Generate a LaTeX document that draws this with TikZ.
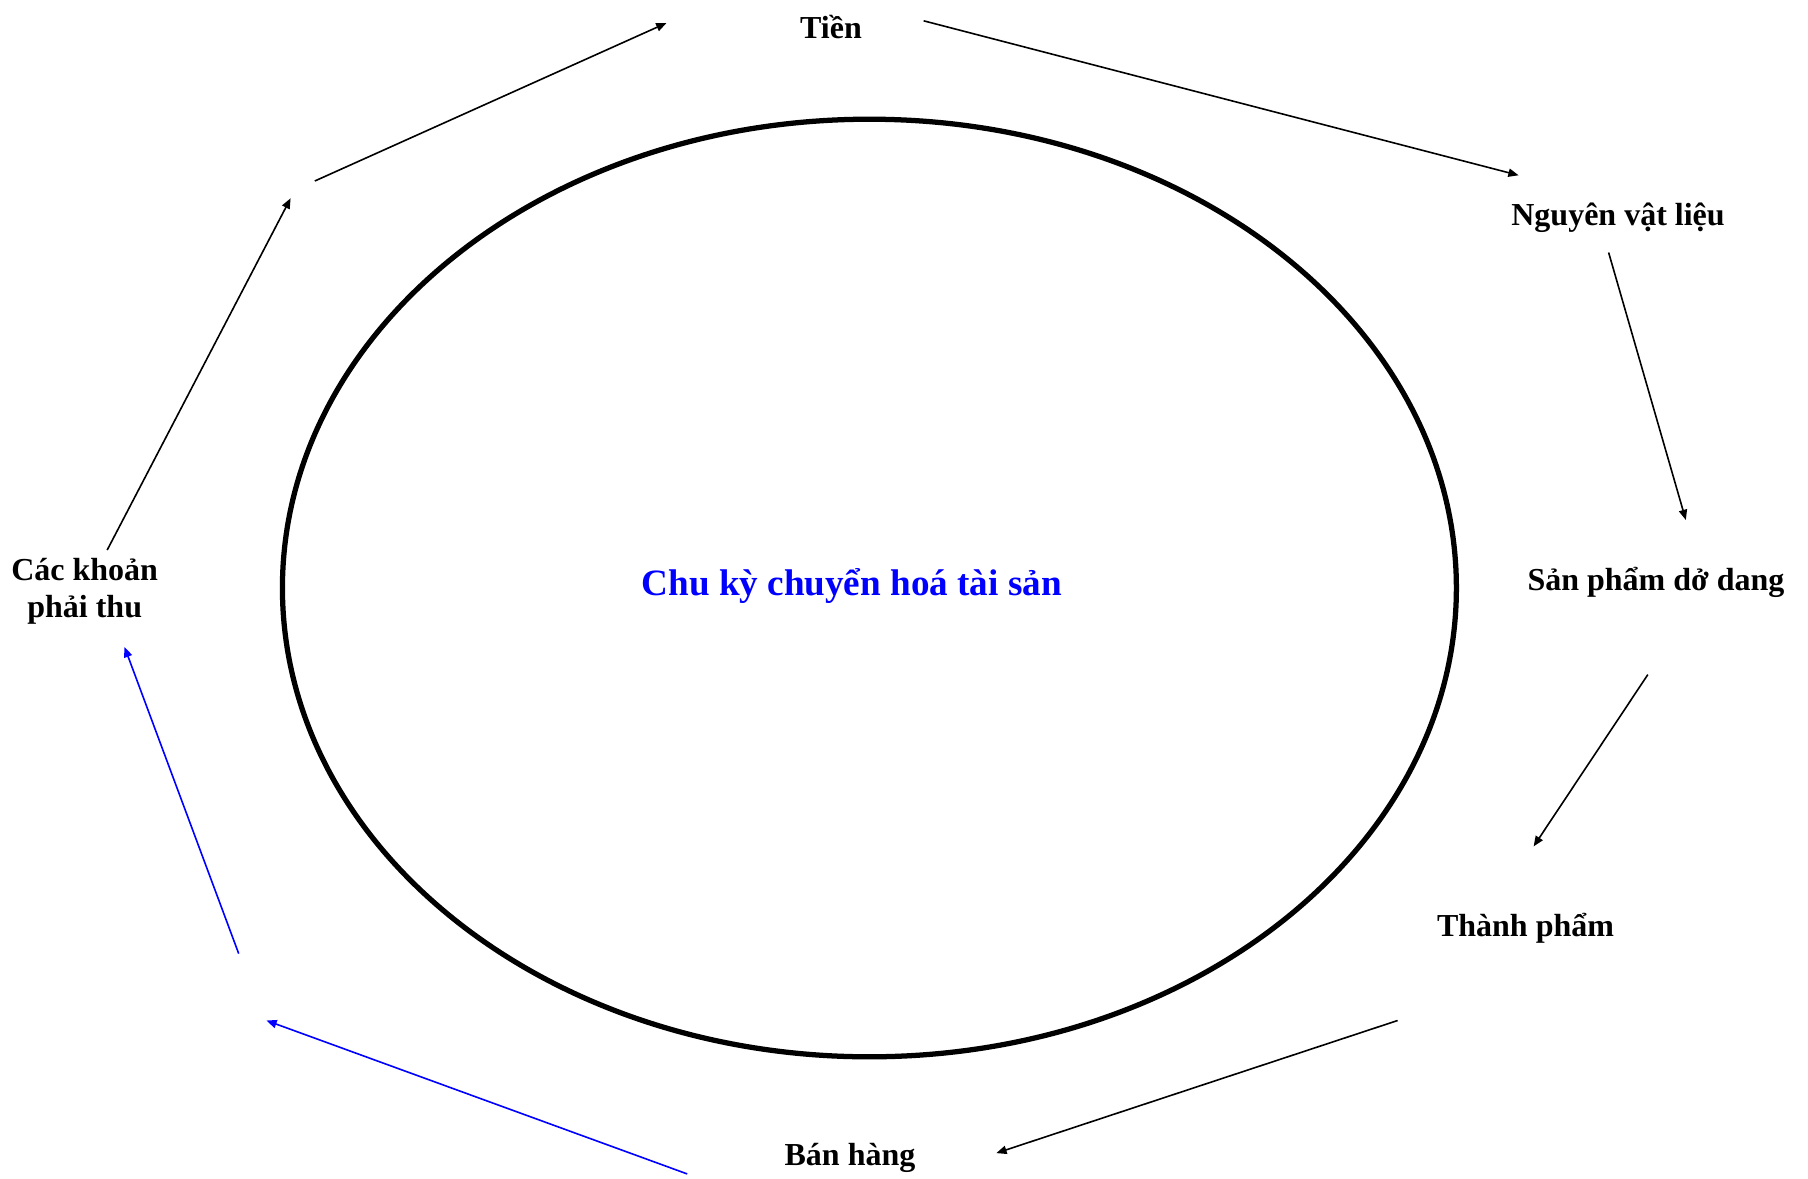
\documentclass[tikz,border=0pt]{standalone}
\usepackage{fontspec}
\setmainfont{Liberation Serif}
\usetikzlibrary{arrows.meta}

\begin{document}
\begin{tikzpicture}[x=0.4375pt, y=-0.4375pt,
        lbl/.style={font=\fontsize{14}{16}\selectfont\bfseries, inner sep=0pt, anchor=base},
        arr/.style={-{Triangle[length=4.5pt, width=3.6pt]}, line width=0.7pt},
        barr/.style={arr, blue}]
        \useasboundingbox (0,0) rectangle (1808,1178);

        % Cycle
        \draw[line width=2.3pt] (869.4,588) ellipse [x radius=256.8pt, y radius=205.1pt];
        \node[font=\fontsize{16.25}{18}\selectfont\bfseries, text=blue, inner sep=0pt, anchor=base] (title) at (851.7,595) {Chu kỳ chuyển hoá tài sản};

        % Stages
        \node[lbl] (tien) at (831,38) {Tiền};
        \node[lbl] (nvl) at (1618,225) {Nguyên vật liệu};
        \node[lbl] (spdd) at (1656,590) {Sản phẩm dở dang};
        \node[lbl] (tp) at (1525.5,936) {Thành phẩm};
        \node[lbl] (bh) at (850,1165) {Bán hàng};
        \node[lbl, anchor=center, align=center] (ckpt) at (84.7,591) {Các khoản\\phải thu};

        % Break points on the left side
        \coordinate (k1) at (290.6,198.3);
        \coordinate (k2) at (314.8,181);
        \coordinate (b1) at (266.4,1020.5);
        \coordinate (b2) at (238.7,953.6);

        % Arrows
        \draw[arr] ([shift={(92.6,-17.2)}]tien.base) -- ([shift={(-99.4,-49.7)}]nvl.base);
        \draw[arr] ([shift={(-9.4,27.5)}]nvl.base) -- ([shift={(29.8,-70)}]spdd.base);
        \draw[arr] ([shift={(-8.2,84.6)}]spdd.base) -- ([shift={(8.1,-89.6)}]tp.base);
        \draw[arr] ([shift={(-127.9,84.5)}]tp.base) -- ([shift={(146.3,-11.9)}]bh.base);
        \draw[barr] ([shift={(-162.8,8.9)}]bh.base) -- (b1);
        \draw[barr] (b2) -- ([shift={(39.8,55.9)}]ckpt.center);
        \draw[arr] ([shift={(22.5,-41)}]ckpt.center) -- (k1);
        \draw[arr] (k2) -- ([shift={(-164.5,-15)}]tien.base);
    \end{tikzpicture}
\end{document}
